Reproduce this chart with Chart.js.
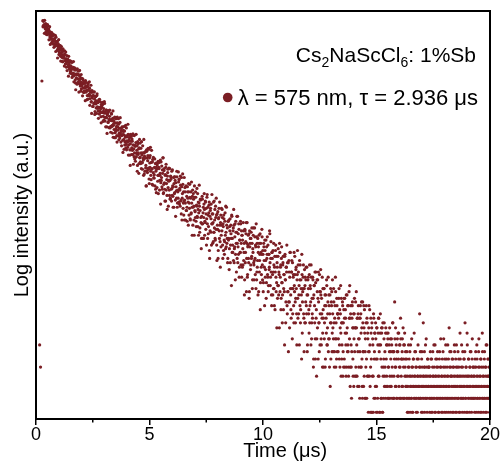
<!DOCTYPE html>
<html><head><meta charset="utf-8">
<script src="https://cdn.jsdelivr.net/npm/chart.js@4.4.1/dist/chart.umd.min.js"></script>
<style>html,body{margin:0;padding:0;background:#fff}#wrap{width:504px;height:474px}</style>
</head><body><div id="wrap"><canvas id="c" width="504" height="474"></canvas></div>
<script>
// TCSPC channel timing (µs): channel width 0.01 µs, split into even / odd channels
const evenChannelStart = 0.30;
const oddChannelStart = 0.31;
const channelPairStep = 0.02;
// photon counts per channel (one row per µs)
const evenChannelCounts = [
816,763,815,775,820,746,764,707,774,754,719,761,692,732,703,754,656,691,664,701,615,669,675,625,678,631,645,586,619,658,590,591,625,563,597,637,543,589,556,513,567,582,523,542,479,550,511,524,551,485,
484,498,445,518,479,491,450,513,459,444,476,423,453,433,474,438,397,445,435,398,442,406,363,435,387,408,436,383,361,404,381,427,359,385,366,336,385,355,383,340,360,321,363,343,374,322,328,343,308,347,
358,310,314,339,296,322,352,285,321,298,267,308,322,279,294,250,304,276,287,308,261,283,253,286,264,293,252,265,234,275,265,247,274,235,260,245,278,221,245,231,255,205,239,245,217,250,224,235,202,223,
206,244,222,209,229,179,214,198,230,216,178,200,215,183,233,205,182,212,188,183,217,190,168,195,183,204,172,193,185,153,194,169,179,156,202,171,180,157,186,162,173,178,142,164,152,181,156,170,143,162,
184,139,146,161,131,167,139,151,115,169,143,154,127,174,138,130,155,119,142,129,160,136,109,146,140,115,148,124,95,149,116,132,155,118,104,137,121,157,109,129,118,97,134,113,136,105,121,95,127,115,
87,118,125,101,131,109,119,90,109,133,99,102,123,91,112,137,87,116,99,78,110,121,90,103,70,113,93,102,120,84,102,81,107,91,115,84,95,72,106,98,86,107,79,99,89,115,72,90,81,100,
103,75,90,108,78,66,94,81,111,71,88,78,61,93,76,94,69,83,60,88,77,98,65,71,82,61,88,67,76,50,90,72,80,61,95,69,63,82,56,73,64,86,70,50,76,73,55,80,63,42,
64,83,58,67,48,75,70,60,78,54,71,62,85,48,65,56,74,41,64,69,52,75,58,66,45,59,77,52,55,70,47,63,81,44,66,54,37,62,71,48,57,33,65,50,57,70,44,58,41,62,
39,60,50,73,43,57,48,35,60,47,61,42,53,35,57,48,65,40,44,53,36,57,42,49,28,60,45,52,37,64,43,39,54,33,47,40,58,45,29,50,47,34,53,40,23,54,35,46,59,37,
59,30,44,37,51,24,43,48,34,52,38,45,28,40,55,34,36,49,30,43,58,28,45,36,23,43,50,31,39,19,45,33,39,49,28,39,27,43,33,47,29,36,22,43,39,30,44,26,39,33,
51,26,37,31,20,40,30,41,25,34,20,38,31,44,24,27,35,22,38,26,31,15,40,29,34,22,43,27,23,35,19,30,24,38,28,16,33,31,20,35,24,11,36,21,29,40,23,17,31,25,
35,25,30,16,26,38,21,22,33,18,28,41,17,31,23,12,28,34,19,25,10,30,21,25,34,17,25,16,29,21,33,18,23,12,28,25,19,30,16,26,21,34,13,22,17,28,9,23,26,16,
13,27,17,8,28,15,22,31,16,11,24,18,32,13,22,17,9,25,17,25,13,20,9,23,17,28,12,15,21,11,23,13,18,7,25,16,20,11,28,15,13,21,9,17,13,24,16,10,20,18,
18,13,22,10,19,15,26,8,16,12,21,8,16,19,10,22,14,17,8,14,23,11,12,20,9,17,26,7,18,12,6,17,21,10,15,7,18,11,15,21,8,15,8,17,11,20,9,13,6,17,
9,14,21,10,6,16,11,20,8,14,11,6,16,10,17,8,13,5,15,11,19,7,9,14,5,16,8,12,5,17,10,14,6,16,10,7,15,5,12,8,17,11,5,14,12,6,15,9,5,16,
6,10,16,8,9,14,7,12,14,6,13,9,6,12,15,7,11,6,13,8,11,16,6,11,6,21,9,15,7,10,6,13,11,8,14,6,12,9,17,6,10,7,13,6,10,12,6,14,9,11,
8,6,11,5,7,9,6,10,8,5,12,7,6,9,8,5,10,7,14,6,8,11,6,9,7,5,8,10,6,7,18,9,6,8,5,11,7,6,16,8,9,5,7,12,6,8,9,6,10,7,
7,9,5,6,8,10,6,7,5,11,8,6,9,7,12,5,8,6,10,7,9,6,5,8,11,7,6,9,5,8,10,6,7,13,8,5,9,6,7,10,6,8,12,5,7,15,9,6,8,11,
6,8,5,10,7,9,6,11,8,5,7,12,6,9,8,6,10,5,7,14,8,6,9,7,5,11,6,8,10,7,16,6,9,5,8,12,7,6,10,8,5,9,7,11,6,8,13,6,9,7,
8,5,10,6,9,7,12,6,8,5,11,7,9,6,8,10,5,7,14,6,9,8,6,11,7,5,9,6,12,8,7,10,6,8,5,7
];
const oddChannelCounts = [
753,809,765,692,774,734,786,684,730,680,774,687,712,636,712,671,599,684,640,693,610,643,686,601,577,629,599,674,546,591,612,554,502,606,575,525,576,532,590,482,537,559,505,478,565,501,518,452,527,464,
542,468,491,426,495,459,396,473,435,485,412,443,481,409,390,436,412,479,368,409,429,378,332,430,402,357,406,366,423,322,375,396,349,326,405,349,365,307,377,321,326,368,339,288,351,324,365,292,329,294,
330,308,368,271,309,327,283,244,328,305,267,308,276,323,241,284,304,262,244,315,266,281,229,291,242,246,284,259,216,270,247,282,220,251,224,285,232,250,205,255,231,188,243,218,253,203,226,255,204,191,
225,242,206,189,252,209,222,178,233,190,194,228,206,168,216,196,228,173,201,177,231,185,201,160,205,185,147,196,174,206,162,182,209,163,152,182,168,212,142,170,184,152,124,186,170,143,175,151,187,126,
154,183,135,159,138,186,145,160,124,164,146,112,156,137,166,127,146,169,128,118,146,133,174,111,136,148,120,95,152,137,113,141,120,153,98,128,141,115,103,151,119,130,96,138,106,110,135,120,91,128,
121,93,128,109,86,121,129,102,112,75,130,106,94,117,137,86,97,119,91,109,78,126,98,84,108,118,73,101,90,119,80,108,104,78,92,117,83,94,72,107,87,102,64,94,81,107,76,88,114,77,
104,92,73,96,79,106,61,86,97,76,65,106,79,88,61,95,69,72,94,81,57,88,76,97,62,81,66,100,72,83,57,86,73,50,82,68,88,60,74,92,63,56,77,67,96,52,69,79,59,48,
58,80,48,72,63,86,50,59,77,66,44,82,58,72,51,67,77,37,53,71,62,44,85,58,66,46,52,78,61,48,73,54,65,36,57,68,41,63,53,77,46,59,43,71,53,63,37,56,65,47,
46,67,42,52,72,45,55,37,60,48,32,56,62,44,51,26,64,48,40,55,70,35,43,58,39,52,31,64,45,35,51,58,29,47,40,60,34,53,50,33,42,59,36,45,28,53,40,51,24,45,
29,43,50,35,22,53,45,32,48,37,55,25,42,50,35,28,55,37,44,25,49,31,33,48,40,24,45,36,51,27,40,30,54,34,41,24,45,36,20,41,32,47,27,37,49,29,24,39,32,53,
35,29,46,23,40,37,23,31,45,25,33,19,41,29,38,15,33,26,42,23,30,45,24,33,19,37,27,16,34,38,25,30,12,39,28,21,33,44,18,24,35,21,31,15,40,25,19,31,36,13,
18,29,20,40,24,30,16,32,25,12,30,22,34,18,26,36,20,16,28,23,39,14,24,29,18,11,32,26,16,28,20,33,11,23,29,18,14,34,20,25,12,29,16,18,29,22,10,26,20,31,
10,31,19,13,24,28,10,21,16,30,12,24,23,12,18,29,14,19,9,25,16,23,10,20,14,26,12,18,29,13,20,9,23,16,10,21,24,14,18,11,25,16,11,20,29,9,13,22,11,18,
11,17,25,12,9,18,14,22,10,16,20,11,9,22,17,9,19,12,23,9,15,20,11,8,24,13,17,9,20,9,11,20,15,8,18,13,22,8,15,9,24,12,17,7,18,13,7,17,11,20,
18,9,15,7,21,11,7,15,19,6,13,9,20,6,16,14,8,11,20,8,12,5,17,10,15,5,13,8,18,6,11,14,7,13,5,15,10,6,14,17,8,12,5,18,10,6,14,15,5,8,
9,13,7,11,6,15,10,8,12,7,14,9,6,11,8,13,10,7,12,9,16,6,11,8,10,13,7,9,12,6,11,8,14,10,7,9,12,6,13,8,10,11,7,15,9,6,12,8,10,7,
7,10,6,8,5,12,9,6,11,7,8,6,13,5,9,7,10,6,8,11,7,9,5,6,10,8,12,7,6,9,8,11,6,7,10,9,5,8,7,6,11,9,8,6,13,7,5,10,8,9,
9,6,8,11,7,5,10,6,9,8,7,12,6,5,8,10,7,9,6,11,8,5,7,10,6,9,13,7,8,6,5,11,9,7,6,10,8,12,5,7,9,6,8,10,6,7,11,5,9,8,
7,10,6,9,5,8,12,7,6,10,9,5,8,7,11,6,9,8,5,10,7,6,12,8,9,6,7,10,5,11,8,6,9,7,14,5,8,10,6,7,9,11,6,8,5,10,7,9,6,8,
6,9,7,11,5,8,10,6,7,9,13,6,8,5,10,7,9,6,11,8,5,7,10,6,9,8,12,5,7,6,10,8,9,6,7
];
// stray pre-pulse channels
const preTimes = [0.16, 0.20, 0.26];
const preCounts = [12, 9, 372];
// axes
const xTicks = [0, 5, 10, 15, 20];
const xMinorTicks = [2.5, 7.5, 12.5, 17.5];
const xRange = [0, 20];
const yRange = [4.58, 925];
// text
const sampleParts = [['Cs', false], ['2', true], ['NaScCl', false], ['6', true], [': 1%Sb', false]];
const seriesLabel = 'λ = 575 nm, τ = 2.936 μs';
const xTitle = 'Time (μs)';
const yTitle = 'Log intensity (a.u.)';

const DOT = '#7b1e24';
const FONT = '"Liberation Sans", Arial, sans-serif';

const points = [];
preTimes.forEach((t, i) => points.push({x: t, y: preCounts[i]}));
evenChannelCounts.forEach((c, i) => points.push({x: +(evenChannelStart + i * channelPairStep).toFixed(2), y: c}));
oddChannelCounts.forEach((c, i) => points.push({x: +(oddChannelStart + i * channelPairStep).toFixed(2), y: c}));

const decor = {
  id: 'decor',
  afterDatasetsDraw(chart) {
    const {ctx, chartArea: a, scales: {x}} = chart;
    ctx.save();
    ctx.strokeStyle = '#000';
    ctx.lineWidth = 2;
    ctx.strokeRect(a.left, a.top, a.right - a.left, a.bottom - a.top);
    ctx.lineWidth = 1.5;
    xMinorTicks.forEach(v => {
      const px = x.getPixelForValue(v);
      ctx.beginPath(); ctx.moveTo(px, a.bottom); ctx.lineTo(px, a.bottom + 3.5); ctx.stroke();
    });
    ctx.fillStyle = '#000';
    ctx.textBaseline = 'alphabetic';
    ctx.textAlign = 'left';
    const big = '21px ' + FONT, small = '14px ' + FONT;
    let w = 0;
    sampleParts.forEach(([t, sub]) => { ctx.font = sub ? small : big; w += ctx.measureText(t).width; });
    let px = 476 - w;
    const base1 = 62;
    sampleParts.forEach(([t, sub]) => {
      ctx.font = sub ? small : big;
      ctx.fillText(t, px, sub ? base1 + 5 : base1);
      px += ctx.measureText(t).width;
    });
    const ds = chart.data.datasets[0];
    ctx.font = '22px ' + FONT;
    const lw = ctx.measureText(ds.label).width;
    const base2 = 105;
    ctx.fillText(ds.label, 478 - lw, base2);
    ctx.fillStyle = ds.backgroundColor;
    ctx.beginPath();
    ctx.arc(478 - lw - 10, base2 - 7.5, 4.8, 0, Math.PI * 2);
    ctx.fill();
    ctx.restore();
  }
};

new Chart(document.getElementById('c'), {
  type: 'scatter',
  data: { datasets: [{
    label: seriesLabel,
    data: points,
    backgroundColor: DOT,
    borderWidth: 0,
    pointRadius: 1.6,
    pointHoverRadius: 1.6
  }]},
  options: {
    responsive: false,
    animation: false,
    devicePixelRatio: 1,
    layout: { padding: { top: 11, right: 14, left: 0, bottom: 0 } },
    plugins: { legend: { display: false }, tooltip: { enabled: false } },
    scales: {
      x: {
        type: 'linear', min: xRange[0], max: xRange[1],
        afterBuildTicks: s => { s.ticks = xTicks.map(v => ({value: v})); },
        afterFit: s => { s.height = 55; },
        grid: { drawOnChartArea: false, drawTicks: true, tickLength: 6, color: '#000', lineWidth: 1.5 },
        border: { display: true, color: '#000', width: 2 },
        ticks: { color: '#000', padding: -1, font: { family: FONT, size: 18 }, maxRotation: 0 },
        title: { display: true, text: '        ' + xTitle, color: '#000', font: { family: FONT, size: 20 }, padding: { top: 0, bottom: 11 } }
      },
      y: {
        type: 'logarithmic', min: yRange[0], max: yRange[1],
        afterFit: s => { s.width = 36; },
        grid: { display: false },
        border: { display: false },
        ticks: { display: false },
        title: { display: true, text: yTitle, color: '#000', font: { family: FONT, size: 20 }, padding: { top: 10, bottom: 0 } }
      }
    }
  },
  plugins: [decor]
});
</script></body></html>
